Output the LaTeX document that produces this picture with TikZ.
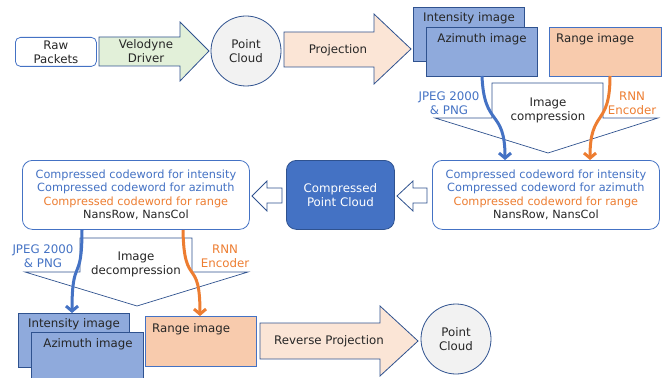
\documentclass[tikz,border=0pt]{standalone}
\usepackage{fontspec}
\setmainfont{DejaVu Sans}
\usetikzlibrary{arrows.meta}
\definecolor{dkb}{HTML}{2F528F}
\definecolor{acb}{HTML}{4472C4}
\definecolor{aco}{HTML}{ED7D31}
\definecolor{imgb}{HTML}{8FAADC}
\definecolor{rng}{HTML}{F8CBAD}
\definecolor{grn}{HTML}{E2F0D9}
\definecolor{pch}{HTML}{FBE5D6}
\definecolor{cgray}{HTML}{F2F2F2}
\definecolor{txt}{HTML}{262626}
\begin{document}
\begin{tikzpicture}[x=1pt,y=-1pt,
  font=\fontsize{11.8}{14}\selectfont, text=txt,
  outl/.style={draw=dkb, line width=0.8pt},
  imgbox/.style={outl, fill=imgb, anchor=north west, inner sep=0pt},
  rngbox/.style={draw=acb, line width=0.8pt, fill=rng, anchor=north west, inner sep=0pt},
  lbl/.style={align=center, inner sep=0pt},
  cwbox/.style={draw=acb, line width=0.8pt, rounded corners=10pt, fill=white, anchor=north west, minimum width=227pt, minimum height=69pt, align=center, inner sep=0pt, font=\fontsize{11.3}{13.6}\selectfont},
  pcloud/.style={circle, outl, fill=cgray, minimum size=70pt, align=center, inner sep=0pt},
  barrow/.style={line width=3pt, -{Straight Barb[length=5pt,width=12pt]}},
  hollow/.style={draw=dkb, line width=0.8pt, fill=white, line join=miter},
  funnel/.style={draw=dkb, line width=0.7pt, fill=white, line join=miter}
]
\useasboundingbox (0,0) rectangle (671,377);

% ---- top row
\node[draw=acb, line width=0.8pt, rounded corners=5pt, minimum width=81pt, minimum height=29pt, anchor=north west, align=center, inner sep=0pt] (raw) at (15,37) {Raw\\Packets};
\draw[outl, fill=grn] (99,37) -- (180,37) -- (180,22) -- (209,51) -- (180,81) -- (180,66) -- (99,66) -- cycle;
\node[lbl] (velo) at (146,51) {Velodyne\\Driver};
\node[pcloud] (pc1) at (246,51) {Point\\Cloud};
\draw[outl, fill=pch] (284,32) -- (374,32) -- (374,14) -- (411,49) -- (374,84) -- (374,67) -- (284,67) -- cycle;
\node[lbl] (proj) at (338,50) {Projection};

\node[imgbox, minimum width=111pt, minimum height=54pt] (int1) at (413,7) {};
\node[lbl] (int1t) at (469,18) {Intensity image};
\node[imgbox, minimum width=111pt, minimum height=49pt] (azi1) at (426,27) {};
\node[lbl] (azi1t) at (482,39) {Azimuth image};
\node[rngbox, minimum width=112pt, minimum height=49pt] (rng1) at (549,27) {};
\node[lbl, anchor=west] (rng1t) at (556,39) {Range image};

% compression funnel
\draw[funnel] (492,118) -- (492,83) -- (603,83) -- (603,118) -- (658,118) -- (548,153) -- (435,118) -- cycle;
\node[lbl] (comp) at (548,110) {Image\\compression};
\node[lbl, text=acb] (jp1) at (449,103) {JPEG 2000\\\& PNG};
\node[lbl, text=aco] (rnn1) at (632,103) {RNN\\Encoder};

% ---- middle row
\node[cwbox] (cwr) at (432,160) {{\color{acb}Compressed codeword for intensity}\\{\color{acb}Compressed codeword for azimuth}\\{\color{aco}Compressed codeword for range}\\NansRow, NansCol};
\node[draw=dkb, line width=0.8pt, fill=acb, rounded corners=10pt, minimum width=108pt, minimum height=69pt, anchor=north west, align=center, text=white, inner sep=0pt] (cpc) at (286,160) {Compressed\\Point Cloud};
\node[cwbox] (cwl) at (22,160) {{\color{acb}Compressed codeword for intensity}\\{\color{acb}Compressed codeword for azimuth}\\{\color{aco}Compressed codeword for range}\\NansRow, NansCol};

\draw[hollow] (427,188) -- (413,188) -- (413,181) -- (397,196) -- (413,211) -- (413,203) -- (427,203) -- cycle;
\draw[hollow] (282,188) -- (267,188) -- (267,181) -- (252,196) -- (267,211) -- (267,203) -- (282,203) -- cycle;

% decompression funnel
\draw[funnel] (80,272) -- (80,238) -- (192,238) -- (192,272) -- (248,272) -- (137,306) -- (25,272) -- cycle;
\node[lbl] (decomp) at (136,264) {Image\\decompression};
\node[lbl, text=acb] (jp2) at (43,256) {JPEG 2000\\\& PNG};
\node[lbl, text=aco] (rnn2) at (225,256) {RNN\\Encoder};

% ---- bottom row
\node[imgbox, minimum width=111pt, minimum height=54pt] (int2) at (18,313) {};
\node[lbl] (int2t) at (74,324) {Intensity image};
\node[imgbox, minimum width=112pt, minimum height=60pt] (azi2) at (31,332) {};
\node[lbl] (azi2t) at (88,344) {Azimuth image};
\node[rngbox, minimum width=111pt, minimum height=50pt] (rng2) at (145,316) {};
\node[lbl, anchor=west] (rng2t) at (152,329) {Range image};
\draw[outl, fill=pch] (260,323) -- (380,323) -- (380,306) -- (418,341) -- (380,376) -- (380,359) -- (260,359) -- cycle;
\node[lbl] (rproj) at (329,341) {Reverse Projection};
\node[pcloud] (pc2) at (456,339) {Point\\Cloud};

% ---- curved arrows
\coordinate (b1s) at (482,76);
\coordinate (b1e) at (505,160);
\coordinate (o1s) at (610,76);
\coordinate (o1e) at (590,160);
\coordinate (b2s) at (82,230);
\coordinate (b2e) at (72,313);
\coordinate (o2s) at (183,230);
\coordinate (o2e) at (200,316);
\draw[barrow, acb] (b1s) .. controls (484,128) and (505,108) .. (b1e);
\draw[barrow, aco] (o1s) .. controls (610,128) and (590,108) .. (o1e);
\draw[barrow, acb] (b2s) .. controls (82,285) and (72,255) .. (b2e);
\draw[barrow, aco] (o2s) .. controls (184,290) and (200,255) .. (o2e);
\end{tikzpicture}
\end{document}
